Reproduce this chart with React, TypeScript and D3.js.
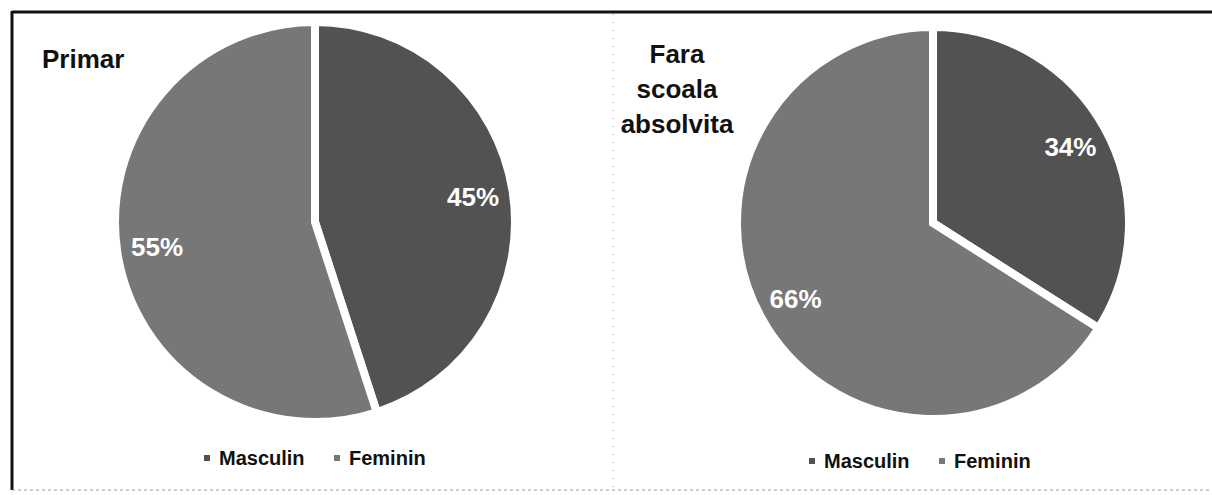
import * as d3 from "d3";

const W = 1212;
const H = 495;

const categories = ["Masculin", "Feminin"];
const primarValues = [45, 55];
const faraScoalaValues = [34, 66];
const primarTitle = ["Primar"];
const faraScoalaTitle = ["Fara", "scoala", "absolvita"];

const colors = d3.scaleOrdinal<string, string>().domain(categories).range(["#525252", "#777777"]);

const FONT = "'Liberation Sans', Arial, sans-serif";

type PanelProps = {
  values: number[];
  title: string[];
  cx: number;
  cy: number;
  r: number;
  titleX: number;
  titleY: number;
  titleAnchor: "start" | "middle";
  legendX: number;
  legendY: number;
};

function PiePanel(props: PanelProps) {
  const rows = categories.map((c, i) => ({ name: c, value: props.values[i] }));
  const pie = d3.pie<{ name: string; value: number }>().value((d) => d.value).sort(null);
  const arcs = pie(rows);
  const arc = d3.arc<d3.PieArcDatum<{ name: string; value: number }>>().innerRadius(0).outerRadius(props.r);
  const labelArc = d3
    .arc<d3.PieArcDatum<{ name: string; value: number }>>()
    .innerRadius(props.r * 0.8)
    .outerRadius(props.r * 0.8);

  const total = d3.sum(rows, (d) => d.value);
  const legendOffsets = [0, 130];

  return (
    <g>
      {props.title.map((t, i) => (
        <text
          key={i}
          x={props.titleX}
          y={props.titleY + i * 35}
          textAnchor={props.titleAnchor}
          fontFamily={FONT}
          fontWeight="bold"
          fontSize={26}
          fill="#111"
        >
          {t}
        </text>
      ))}
      <g transform={`translate(${props.cx},${props.cy})`}>
        {arcs.map((a, i) => (
          <path key={i} d={arc(a) ?? ""} fill={colors(a.data.name)} stroke="#fff" strokeWidth={8} strokeLinejoin="miter" />
        ))}
        {arcs.map((a, i) => {
          const [x, y] = labelArc.centroid(a);
          return (
            <text
              key={i}
              x={x}
              y={y}
              textAnchor="middle"
              dominantBaseline="central"
              fontFamily={FONT}
              fontWeight="bold"
              fontSize={26}
              fill="#fff"
            >
              {Math.round((a.data.value / total) * 100)}%
            </text>
          );
        })}
      </g>
      {categories.map((c, i) => (
        <g key={c} transform={`translate(${props.legendX + legendOffsets[i]},${props.legendY})`}>
          <rect x={-3} y={-3} width={6} height={6} fill={colors(c)} />
          <text x={12} y={0} dominantBaseline="central" fontFamily={FONT} fontWeight="bold" fontSize={20} fill="#111">
            {c}
          </text>
        </g>
      ))}
    </g>
  );
}

export default function App() {
  return (
    <svg width={W} height={H} style={{ position: "absolute", left: 0, top: 0, background: "#fff" }}>
      {/* frame */}
      <line x1={12} y1={12} x2={W} y2={12} stroke="#111" strokeWidth={3} />
      <line x1={12} y1={11} x2={12} y2={490} stroke="#111" strokeWidth={3} />
      <line x1={12} y1={490} x2={W} y2={490} stroke="#999" strokeWidth={1} strokeDasharray="3 3" />
      <line x1={613} y1={14} x2={613} y2={490} stroke="#888" strokeWidth={1} strokeDasharray="1 7" />

      <PiePanel
        values={primarValues}
        title={primarTitle}
        cx={315}
        cy={222}
        r={200}
        titleX={42}
        titleY={68}
        titleAnchor="start"
        legendX={207}
        legendY={458}
      />
      <PiePanel
        values={faraScoalaValues}
        title={faraScoalaTitle}
        cx={933}
        cy={223}
        r={196}
        titleX={677}
        titleY={63}
        titleAnchor="middle"
        legendX={812}
        legendY={461}
      />
    </svg>
  );
}
